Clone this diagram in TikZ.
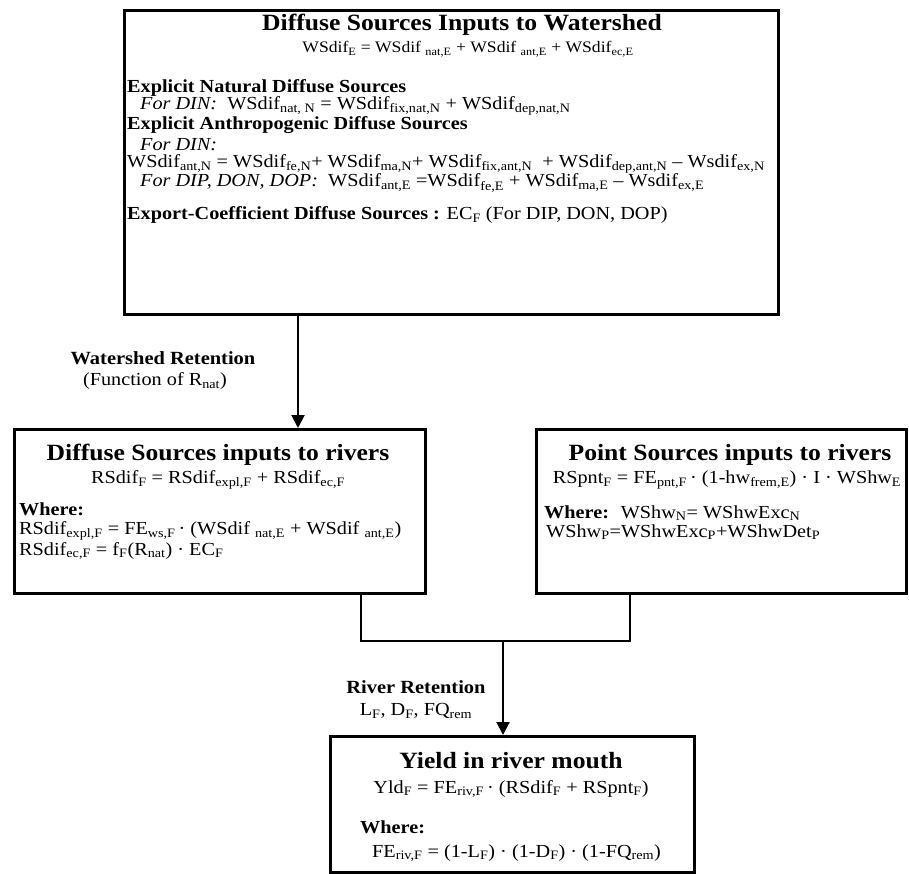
\documentclass[tikz,border=0pt]{standalone}
\usepackage{fontspec}
\setmainfont{Liberation Serif}[FakeStretch=1.1]
\usetikzlibrary{arrows.meta}
\newcommand*{\subX}[1]{\textsubscript{#1}}

\begin{document}
\begin{tikzpicture}[x=1pt, y=-1pt,
    every node/.style={inner sep=0pt, font=\fontsize{18.4}{21}\selectfont},
    box/.style={draw, line width=3pt, anchor=north west},
    boxtitle/.style={font=\bfseries\fontsize{23.3}{26}\selectfont},
    line/.style={anchor=west},
    label/.style={font=\bfseries\fontsize{18.6}{21}\selectfont},
    small/.style={font=\fontsize{16}{18}\selectfont},
    conn/.style={line width=2pt},
    arr/.style={conn, -{Triangle[length=13pt, width=13pt]}}]

\useasboundingbox (0,0) rectangle (909,874);

% boxes
\node[box, minimum width=654pt, minimum height=304pt] (wsbox) at (123,9) {};
\node[box, minimum width=411pt, minimum height=164pt] (difbox) at (13,428) {};
\node[box, minimum width=370pt, minimum height=164pt] (pntbox) at (535,428) {};
\node[box, minimum width=364pt, minimum height=136pt] (yldbox) at (329,735) {};

% diffuse sources to watershed
\node[boxtitle] (wstitle) at (462,25) {Diffuse Sources Inputs to Watershed};
\node[small] (wseq) at (468,49) {WSdif\subX{E} = WSdif \subX{nat,E} + WSdif \subX{ant,E} + WSdif\subX{ec,E}};
\node[line] (natdif) at (127,88) {\textbf{Explicit Natural Diffuse Sources}};
\node[line] (nateq) at (140,106) {\textit{For DIN:} \ WSdif\subX{nat, N} = WSdif\subX{fix,nat,N} + WSdif\subX{dep,nat,N}};
\node[line] (antdif) at (127,125) {\textbf{Explicit Anthropogenic Diffuse Sources}};
\node[line] (antdin) at (140,145) {\textit{For DIN:}};
\node[line] (anteqn) at (127,164) {WSdif\subX{ant,N} = WSdif\subX{fe,N}+ WSdif\subX{ma,N}+ WSdif\subX{fix,ant,N} \ + WSdif\subX{dep,ant,N} – Wsdif\subX{ex,N}};
\node[line] (anteqe) at (140,183) {\textit{For DIP, DON, DOP:} \ WSdif\subX{ant,E} =WSdif\subX{fe,E} + WSdif\subX{ma,E} – Wsdif\subX{ex,E}};
\node[line] (ecdif) at (127,215) {\textbf{Export-Coefficient Diffuse Sources :} EC\subX{F} (For DIP, DON, DOP)};

% watershed retention
\node[label] (wsret) at (163,358) {Watershed Retention};
\node (wsretfn) at (155,381) {(Function of R\subX{nat})};

% diffuse sources to rivers
\node[boxtitle] (diftitle) at (218,455) {Diffuse Sources inputs to rivers};
\node (difeq) at (218,480) {RSdif\subX{F} = RSdif\subX{expl,F} + RSdif\subX{ec,F}};
\node[line] (difwhere) at (19,509) {\textbf{Where:}};
\node[line] (difexpl) at (19,531) {RSdif\subX{expl,F} = FE\subX{ws,F}\,· (WSdif \subX{nat,E} + WSdif \subX{ant,E})};
\node[line] (difec) at (19,551) {RSdif\subX{ec,F} = f\subX{F}(R\subX{nat}) · EC\subX{F}};

% point sources to rivers
\node[boxtitle] (pnttitle) at (730,455) {Point Sources inputs to rivers};
\node (pnteq) at (727,480) {RSpnt\subX{F} = FE\subX{pnt,F}\,· (1-hw\subX{frem,E}) · I · WShw\subX{E}};
\node[line] (pntwhere) at (544,513) {\textbf{Where:} \ WShw\subX{N}= WShwExc\subX{N}};
\node[line] (pnthwp) at (546,532) {WShw\subX{P}=WShwExc\subX{P}+WShwDet\subX{P}};

% river retention
\node[label] (rivret) at (416,687) {River Retention};
\node (rivretpar) at (416,711) {L\subX{F}, D\subX{F}, FQ\subX{rem}};

% yield
\node[boxtitle] (yldtitle) at (511,761) {Yield in river mouth};
\node (yldeq) at (511,789) {Yld\subX{F} = FE\subX{riv,F}\,· (RSdif\subX{F} + RSpnt\subX{F})};
\node[line] (yldwhere) at (360,827) {\textbf{Where:}};
\node[line] (yldfe) at (372,853) {FE\subX{riv,F} = (1-L\subX{F}) · (1-D\subX{F}) · (1-FQ\subX{rem})};

% connectors
\coordinate (wsx) at (298,0);
\coordinate (difx) at (361,641);
\coordinate (pntx) at (630,641);
\coordinate (joinx) at (503,641);
\draw[arr] (wsbox.south -| wsx) -- (difbox.north -| wsx);
\draw[conn] (difbox.south -| difx) |- (pntx) -- (pntbox.south -| pntx);
\draw[arr] (joinx) -- (yldbox.north -| joinx);
\end{tikzpicture}
\end{document}
